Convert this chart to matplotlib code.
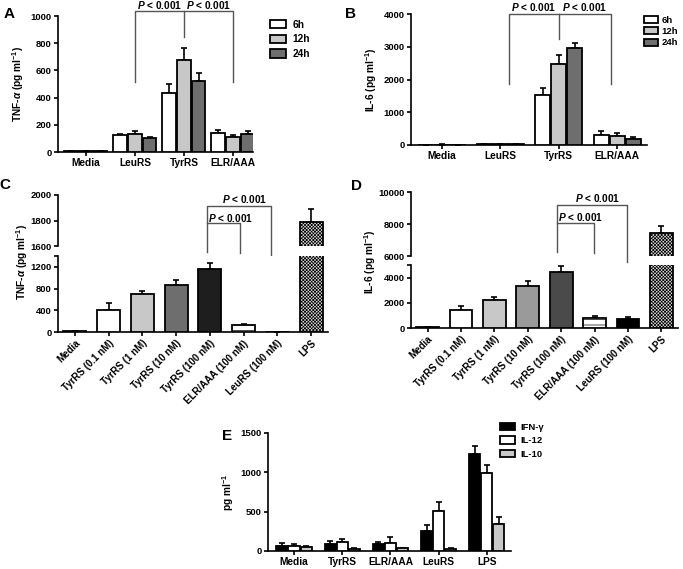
import matplotlib
matplotlib.use('Agg')
import matplotlib.pyplot as plt
import numpy as np

plt.rcParams['font.family'] = ['Liberation Sans', 'DejaVu Sans']
plt.rcParams['font.weight'] = 'bold'
plt.rcParams['axes.labelweight'] = 'bold'
plt.rcParams['mathtext.fontset'] = 'custom'
plt.rcParams['mathtext.rm'] = 'Liberation Sans:bold'
plt.rcParams['mathtext.it'] = 'Liberation Sans:italic:bold'
plt.rcParams['mathtext.bf'] = 'Liberation Sans:bold'
plt.rcParams['hatch.linewidth'] = 0.5

# --- data ---
groups_ab = ['Media', 'LeuRS', 'TyrRS', 'ELR/AAA']
times = ['6h', '12h', '24h']
time_colors = ['white', '#c8c8c8', '#6e6e6e']

tnf_a = [[5, 127, 435, 143], [5, 134, 680, 113], [5, 105, 522, 130]]
tnf_a_err = [[2, 6, 65, 18], [2, 20, 88, 10], [2, 6, 60, 28]]

il6_b = [[10, 20, 1530, 305], [15, 25, 2470, 275], [10, 20, 2950, 185]]
il6_b_err = [[5, 5, 220, 130], [5, 5, 275, 80], [5, 5, 170, 70]]

doses = ['Media', 'TyrRS (0.1 nM)', 'TyrRS (1 nM)', 'TyrRS (10 nM)', 'TyrRS (100 nM)',
         'ELR/AAA (100 nM)', 'LeuRS (100 nM)', 'LPS']
tnf_c = [10, 412, 695, 861, 1169, 123, 5, 1791]
tnf_c_err = [3, 129, 62, 105, 105, 31, 2, 97]
il6_d = [50, 1447, 2237, 3342, 4474, 790, 737, 7451]
il6_d_err = [20, 316, 263, 421, 473, 131, 105, 414]
c_colors = ['white', 'white', '#c8c8c8', '#6e6e6e', '#1e1e1e', 'white', 'black', '#d8d8d8']
d_colors = ['white', 'white', '#c8c8c8', '#9a9a9a', '#4a4a4a', 'white', 'black', '#d8d8d8']
dose_hatch = [None, None, None, None, None, '---', None, 'xxxxxxxxxx']

groups_e = ['Media', 'TyrRS', 'ELR/AAA', 'LeuRS', 'LPS']
cytokines = ['IFN-γ', 'IL-12', 'IL-10']
cyto_colors = ['black', 'white', '#c8c8c8']
cyto_e = [[68, 89, 85, 255, 1237], [68, 110, 98, 514, 990], [55, 25, 34, 25, 344]]
cyto_e_err = [[30, 38, 34, 76, 102], [17, 39, 85, 106, 102], [13, 17, 8, 9, 94]]

W, H = 683, 569
fig = plt.figure(figsize=(W / 100, H / 100), dpi=100)


def px_axes(l, t, r, b):
    return fig.add_axes([l / W, 1 - b / H, (r - l) / W, (b - t) / H])


def style(ax, bottom=True):
    for s in ['top', 'right']:
        ax.spines[s].set_visible(False)
    ax.spines['left'].set_linewidth(1.2)
    ax.spines['bottom'].set_linewidth(1.2)
    if not bottom:
        ax.spines['bottom'].set_visible(False)
        ax.tick_params(axis='x', bottom=False, labelbottom=False)
    ax.tick_params(width=1.2, length=3, labelsize=6.8, pad=1.5)
    ax.tick_params(axis='x', labelsize=7.3)


def grouped(ax, vals, errs, colors, labels, offs, width):
    x = np.arange(len(vals[0]))
    for i, (v, e, c, lab) in enumerate(zip(vals, errs, colors, labels)):
        xi = x + (i - 1) * offs
        ax.bar(xi, v, width, color=c, edgecolor='black', linewidth=1.3, label=lab, zorder=3)
        ax.errorbar(xi, v, yerr=[np.zeros(len(v)), e], fmt='none', ecolor='black',
                    elinewidth=1.2, capsize=2.5, capthick=1.2, zorder=2)


def bracket(ax, xs, ys):
    ax.plot(xs, ys, color='#555555', lw=1, clip_on=False, zorder=1)


ptxt = r'$P$ < 0.001'
pfs = 7.3
lfs = 7.3

# --- A ---
axA = px_axes(58, 16, 253, 152)
grouped(axA, tnf_a, tnf_a_err, time_colors, times, 0.3, 0.28)
axA.set_xlim(-0.57, 3.41)
axA.set_ylim(0, 1000)
axA.set_yticks([0, 200, 400, 600, 800, 1000])
axA.set_xticks(range(4))
axA.set_xticklabels(groups_ab)
style(axA)
axA.set_ylabel(r'TNF-$\alpha$ (pg ml$^{-1}$)', fontsize=lfs, labelpad=3)
bracket(axA, [1, 1, 3, 3], [515, 1037, 1037, 515])
bracket(axA, [2, 2], [845, 1037])
axA.text(1.5, 1051, ptxt, ha='center', va='baseline', fontsize=pfs)
axA.text(2.5, 1051, ptxt, ha='center', va='baseline', fontsize=pfs)
axA.legend(loc='upper left', bbox_to_anchor=(1.04, 1.04), frameon=False, fontsize=lfs,
           handlelength=1.6, handleheight=0.9, labelspacing=0.45, handletextpad=0.6)

# --- B ---
axB = px_axes(411, 14, 647, 145)
grouped(axB, il6_b, il6_b_err, time_colors, times, 0.275, 0.26)
axB.set_xlim(-0.53, 3.51)
axB.set_ylim(0, 4000)
axB.set_yticks([0, 1000, 2000, 3000, 4000])
axB.set_xticks(range(4))
axB.set_xticklabels(groups_ab)
style(axB)
axB.set_ylabel(r'IL-6 (pg ml$^{-1}$)', fontsize=lfs, labelpad=3)
bracket(axB, [1.15, 1.15, 2.9, 2.9], [1863, 4000, 4000, 1863])
bracket(axB, [2.0, 2.0], [3226, 4000])
axB.text(1.575, 4092, ptxt, ha='center', va='baseline', fontsize=pfs)
axB.text(2.45, 4092, ptxt, ha='center', va='baseline', fontsize=pfs)
axB.legend(loc='upper left', bbox_to_anchor=(0.965, 1.03), frameon=False, fontsize=6.8,
           handlelength=1.4, handleheight=0.8, labelspacing=0.25, handletextpad=0.4,
           borderaxespad=0.2)


# --- C and D (broken axes) ---
def broken(top_box, bot_box, vals, errs, colors, up_lim, up_ticks, lo_lim, lo_ticks, lo_labels):
    up = px_axes(*top_box)
    lo = px_axes(*bot_box)
    x = np.arange(len(vals))
    for ax in (up, lo):
        for xi, v, e, c, h in zip(x, vals, errs, colors, dose_hatch):
            ax.bar(xi, v, 0.68, color=c, edgecolor='black', linewidth=1.3, hatch=h, zorder=3)
            ax.errorbar(xi, v, yerr=[[0], [e]], fmt='none', ecolor='black', elinewidth=1.2,
                        capsize=2.5, capthick=1.2, zorder=2)
        ax.set_xlim(-0.5, 7.5)
    up.set_ylim(*up_lim)
    up.set_yticks(up_ticks)
    lo.set_ylim(*lo_lim)
    lo.set_yticks(lo_ticks)
    lo.set_yticklabels(lo_labels)
    style(up, bottom=False)
    style(lo)
    lo.set_xticks(x)
    lo.set_xticklabels(doses, rotation=45, ha='right', rotation_mode='anchor', fontsize=7)
    return up, lo


upC, loC = broken((58, 195, 328, 246), (58, 256, 328, 332), tnf_c, tnf_c_err, c_colors,
                  (1600, 2000), [1600, 1800, 2000], (0, 1400), [0, 400, 800, 1200, 1400],
                  ['0', '400', '800', '1200', ''])
fig.text(22 / W, 1 - 262 / H, r'TNF-$\alpha$ (pg ml$^{-1}$)', rotation=90, fontsize=lfs,
         ha='center', va='center')
bracket(upC, [3.9, 3.9, 5.8, 5.8], [1553, 1914, 1914, 1467])
bracket(upC, [3.9, 4.88, 4.88], [1780, 1780, 1545])
upC.text(5.03, 1937, ptxt, ha='center', va='baseline', fontsize=pfs)
upC.text(3.95, 1788, ptxt, ha='left', va='baseline', fontsize=pfs)

upD, loD = broken((411, 192, 678, 256), (411, 265, 678, 328), il6_d, il6_d_err, d_colors,
                  (6000, 10000), [6000, 8000, 10000], (0, 5000), [0, 2000, 4000, 5000],
                  ['0', '2000', '4000', ''])
fig.text(370 / W, 1 - 262 / H, r'IL-6 (pg ml$^{-1}$)', rotation=90, fontsize=lfs,
         ha='center', va='center')
bracket(upD, [3.86, 3.86, 5.96, 5.96], [6250, 9187, 9187, 5625])
bracket(upD, [3.86, 4.97, 4.97], [8062, 8062, 6187])
upD.text(5.09, 9375, ptxt, ha='center', va='baseline', fontsize=pfs)
upD.text(3.9, 8187, ptxt, ha='left', va='baseline', fontsize=pfs)

# --- E ---
axE = px_axes(268, 433, 511, 551)
grouped(axE, cyto_e, cyto_e_err, cyto_colors, cytokines, 0.25, 0.23)
axE.set_xlim(-0.54, 4.5)
axE.set_ylim(0, 1500)
axE.set_yticks([0, 500, 1000, 1500])
axE.set_xticks(range(5))
axE.set_xticklabels(groups_e)
style(axE)
axE.set_ylabel(r'pg ml$^{-1}$', fontsize=lfs, labelpad=3)
axE.legend(loc='upper left', bbox_to_anchor=(0.92, 1.16), frameon=False, fontsize=6.8,
           handlelength=1.6, handleheight=0.8, labelspacing=0.5, handletextpad=0.6)

# panel letters
for lab, (px, py) in zip('ABCDE', [(9, 14), (351, 14), (5, 185), (356, 186), (227, 436)]):
    fig.text(px / W, 1 - py / H, lab, fontsize=11, ha='center', va='center')

fig.savefig('out.png', dpi=100)
